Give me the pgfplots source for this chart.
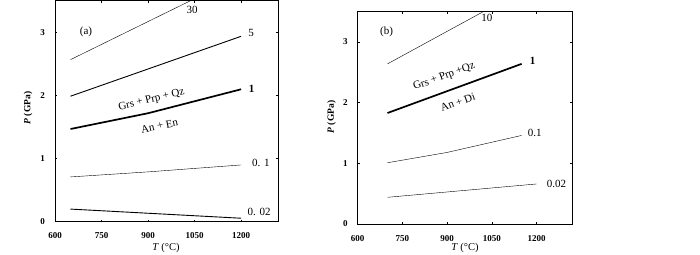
\documentclass[border=0pt]{standalone}
\usepackage{pgfplots}
\pgfplotsset{compat=1.18}
\usepackage{fontspec}
\setmainfont{Liberation Serif}
\begin{document}
\begin{tikzpicture}
\useasboundingbox (0pt,0pt) rectangle (700pt,254pt);
\pgfplotsset{
  myax/.style={
    anchor=south west, scale only axis,
    xmin=600, xmax=1320, ymin=0, ymax=3.5,
    xtick={600,750,900,1050,1200}, ytick={0,1,2,3},
    tick align=inside, major tick length=2pt,
    tick style={line width=0.5pt, black},
    ticklabel style={font=\fontsize{9}{10}\selectfont\bfseries},
    /pgf/number format/assume math mode=true,
    /pgf/number format/1000 sep={},
    xticklabel style={yshift=-7.5pt},
    yticklabel style={xshift=-6.5pt},
    axis line style={line width=1pt},
    clip=false,
    cycle list={{black, line width=0.9pt, mark=none}},
  },
}
\tikzset{lbl/.style={font=\fontsize{11}{13}\selectfont, inner sep=0pt}}
% panel (a)
\begin{axis}[myax, at={(55pt,32.3pt)}, width=223.3pt, height=220.7pt]
\addplot coordinates {(650,2.57) (1035,3.5)};
\addplot coordinates {(650,1.99) (1200,2.94)};
\addplot+[line width=1.7pt] coordinates {(650,1.47) (900,1.72) (1200,2.10)};
\addplot coordinates {(650,0.71) (900,0.79) (1200,0.90)};
\addplot coordinates {(650,0.20) (1200,0.055)};
\node[lbl] at (axis cs:1042,3.36) {30};
\node[lbl] at (axis cs:1232,2.99) {5};
\node[lbl, font=\fontsize{11}{13}\selectfont\bfseries] at (axis cs:1234,2.10) {1};
\node[lbl] at (axis cs:1264,0.94) {0. 1};
\node[lbl] at (axis cs:1258,0.15) {0. 02};
\node[lbl] at (axis cs:700,3.01) {(a)};
\node[lbl, rotate=13.5] at (axis cs:911,1.93) {Grs + Prp + Qz};
\node[lbl, rotate=11.5] at (axis cs:937,1.52) {An + En};
\end{axis}
% panel (b)
\begin{axis}[myax, at={(357.7pt,30pt)}, width=214.6pt, height=212.3pt]
\addplot coordinates {(700,2.64) (1021,3.5)};
\addplot+[line width=1.7pt] coordinates {(700,1.83) (1150,2.64)};
\addplot coordinates {(700,1.01) (900,1.18) (1150,1.46)};
\addplot coordinates {(700,0.44) (1200,0.66)};
\node[lbl] at (axis cs:1033,3.40) {10};
\node[lbl, font=\fontsize{11}{13}\selectfont\bfseries] at (axis cs:1187,2.69) {1};
\node[lbl] at (axis cs:1194,1.50) {0.1};
\node[lbl] at (axis cs:1267,0.66) {0.02};
\node[lbl] at (axis cs:697,3.16) {(b)};
\node[lbl, rotate=20] at (axis cs:890,2.43) {Grs + Prp +Qz};
\node[lbl, rotate=20] at (axis cs:936,2.01) {An + Di};
\end{axis}
% axis labels
\node[rotate=90, font=\fontsize{9.5}{11}\selectfont\bfseries] at (28pt,146pt) {\textit{P} (GPa)};
\node[font=\fontsize{10.5}{12}\selectfont] at (166pt,6pt) {\textit{T} (°C)};
\node[rotate=90, font=\fontsize{9.5}{11}\selectfont\bfseries] at (331.7pt,137pt) {\textit{P} (GPa)};
\node[font=\fontsize{10.5}{12}\selectfont] at (465pt,6pt) {\textit{T} (°C)};
\end{tikzpicture}
\end{document}
